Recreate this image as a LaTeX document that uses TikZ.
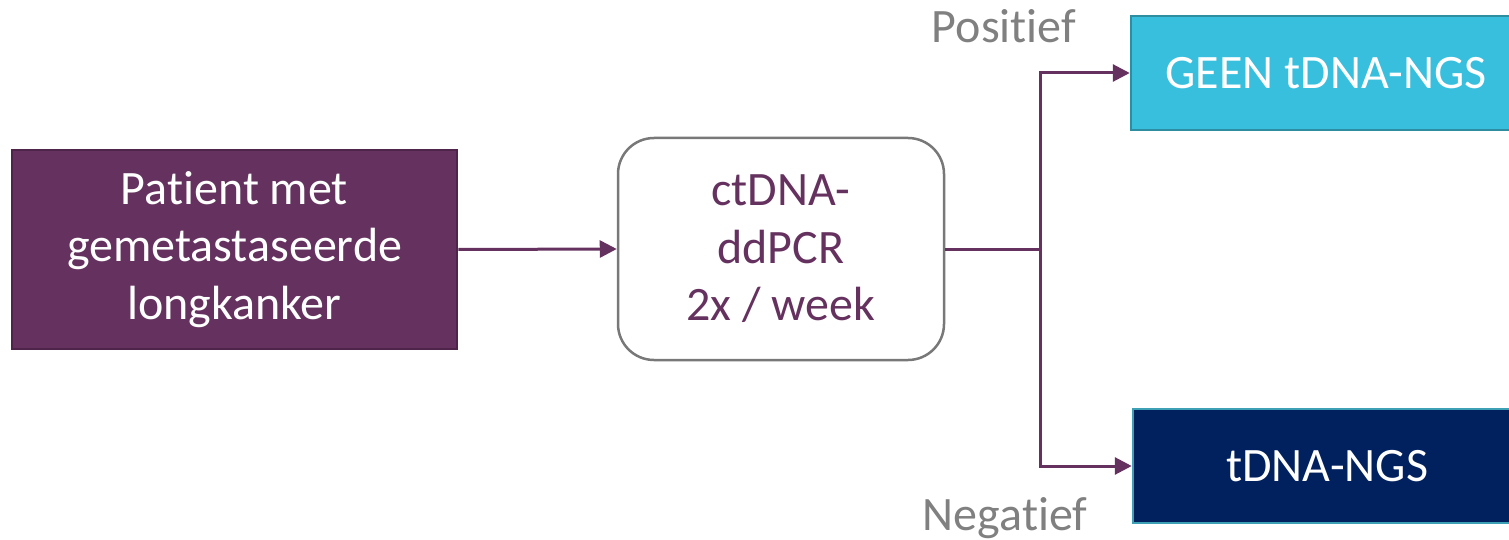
\documentclass[tikz,border=0pt]{standalone}
\usepackage{fontspec}
\setmainfont{Carlito}[RawFeature={-liga;-clig;-dlig;-calt;-rlig}]
\usetikzlibrary{arrows.meta}
\definecolor{pfill}{RGB}{101,50,95}
\definecolor{pborder}{RGB}{78,36,74}
\definecolor{cfill}{RGB}{56,191,221}
\definecolor{cborder}{RGB}{44,142,160}
\definecolor{nfill}{RGB}{0,32,94}
\definecolor{nborder}{RGB}{62,160,180}
\definecolor{gtext}{RGB}{128,128,128}
\definecolor{rborder}{RGB}{120,120,120}
\tikzset{
  boxtext/.style={font=\fontsize{48}{57.5}\selectfont, align=center, inner sep=0pt},
  conn/.style={draw=pfill, line width=3pt, -{Triangle[length=17pt,width=17pt]}},
  plain/.style={draw=pfill, line width=3pt},
  lbl/.style={font=\fontsize{48}{57.5}\selectfont, text=gtext, inner sep=0pt}
}
\begin{document}
\begin{tikzpicture}[x=1pt,y=-1pt]
\useasboundingbox (0,0) rectangle (1509,540);
\clip (0,0) rectangle (1509,540);
\node[boxtext, fill=pfill, draw=pborder, line width=2.5pt, text=white,
  minimum width=445pt, minimum height=199pt] (pat) at (234.5,249.5)
  {Patient met\\gemetastaseerde\\longkanker};
\node[boxtext, draw=rborder, line width=2.5pt, rounded corners=36pt, text=pfill,
  minimum width=326pt, minimum height=222pt] (pcr) at (781,249)
  {ctDNA-\\ddPCR\\2x / week};
\node[boxtext, fill=cfill, draw=cborder, line width=2.5pt, text=white,
  minimum width=390pt, minimum height=114pt] (geen) at (1326,73)
  {GEEN tDNA-NGS};
\node[boxtext, fill=nfill, draw=nborder, line width=2.5pt, text=white,
  minimum width=388pt, minimum height=114pt] (ngs) at (1327,466)
  {tDNA-NGS};
\node[lbl, anchor=base] (pos) at (1004,43) {Positief};
\node[lbl, anchor=base] (neg) at (1005,530) {Negatief};
\coordinate (j) at (1040,249);
\draw[conn] (pat.east) -- (pcr.west);
\draw[plain] (pcr.east) -- (j);
\draw[conn] (j) |- (geen.west);
\draw[conn] (j) |- (ngs.west);
\end{tikzpicture}
\end{document}
